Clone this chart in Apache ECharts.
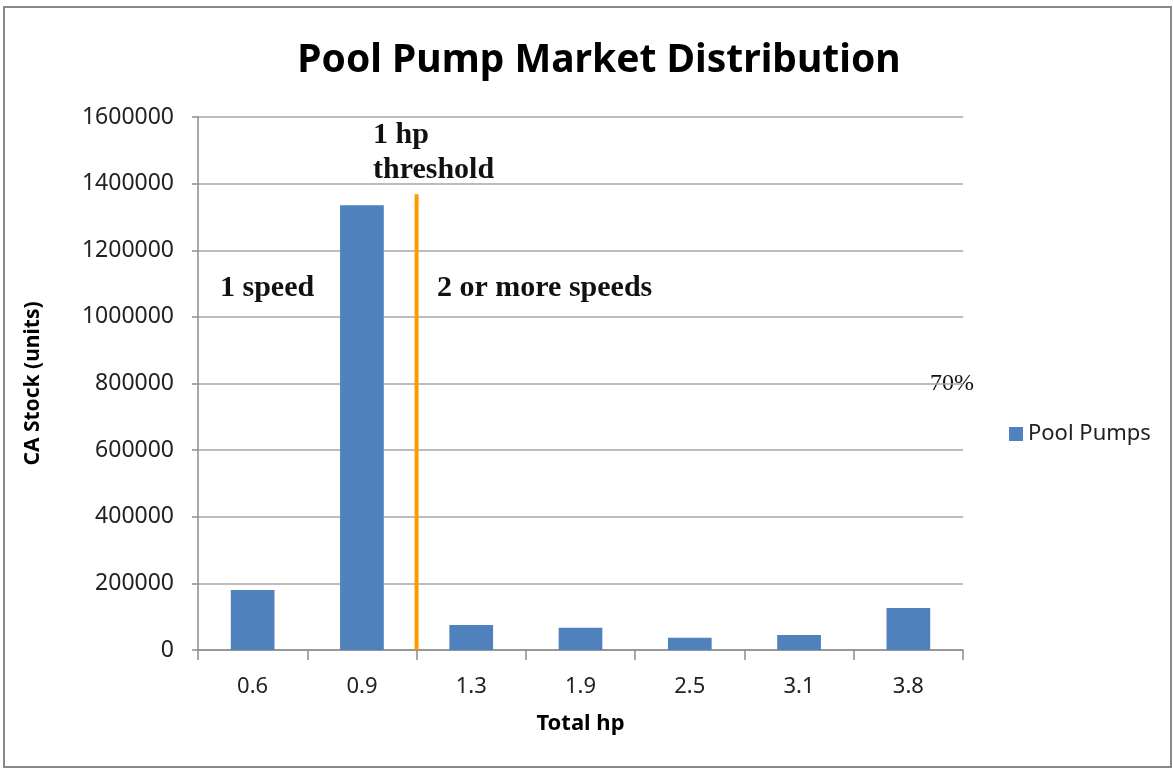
<!DOCTYPE html>
<html>
<head>
<meta charset="utf-8">
<script src="https://cdn.jsdelivr.net/npm/echarts@6/dist/echarts.min.js"></script>
<style>html,body{margin:0;padding:0;background:#fff;}#c{width:1173px;height:772px;}</style>
</head>
<body>
<div id="c"></div>
<script>
const categories = ['0.6', '0.9', '1.3', '1.9', '2.5', '3.1', '3.8'];
const poolPumps = [180000, 1335000, 75000, 67000, 37000, 45000, 126000];
const thresholdLine = [[2, 0], [2, 1368000]];
const yTicks = { min: 0, max: 1600000, interval: 200000 };

const sans = 'Noto Sans';
const chart = echarts.init(document.getElementById('c'));
chart.setOption({
  animation: false,
  backgroundColor: '#fff',
  title: {
    text: 'Pool Pump Market Distribution',
    left: 594, top: 36, textAlign: 'center',
    textStyle: { fontFamily: sans, fontSize: 39, fontWeight: 'bold', color: '#000' }
  },
  legend: {
    data: ['Pool Pumps'],
    left: 1004, top: 418, orient: 'vertical',
    itemWidth: 14, itemHeight: 14, icon: 'rect',
    textStyle: { fontFamily: sans, fontSize: 22, color: '#222' }
  },
  grid: { left: 198, right: 210, top: 117, bottom: 122 },
  xAxis: [{
    type: 'category', data: categories,
    axisLine: { lineStyle: { color: '#8c8c8c', width: 1.5 } },
    axisTick: { show: true, length: 10, lineStyle: { color: '#8c8c8c', width: 1.5 } },
    axisLabel: { fontFamily: sans, fontSize: 22, color: '#222', margin: 26 },
    name: 'Total hp', nameLocation: 'middle', nameGap: 63,
    nameTextStyle: { fontFamily: sans, fontSize: 22, fontWeight: 'bold', color: '#000' }
  }, {
    type: 'value', min: 0, max: 7, show: false
  }],
  yAxis: {
    type: 'value', min: yTicks.min, max: yTicks.max, interval: yTicks.interval,
    axisLine: { show: true, lineStyle: { color: '#8c8c8c', width: 1.5 } },
    axisTick: { show: true, length: 6, lineStyle: { color: '#8c8c8c', width: 1.5 } },
    splitLine: { lineStyle: { color: '#a6a6a6', width: 1.5 } },
    axisLabel: { fontFamily: sans, fontSize: 23, color: '#222', margin: 24, formatter: v => String(v) },
    name: 'CA Stock (units)', nameLocation: 'middle', nameGap: 154,
    nameTextStyle: { fontFamily: sans, fontSize: 21, fontWeight: 'bold', color: '#000' }
  },
  series: [{
    name: 'Pool Pumps', type: 'bar', data: poolPumps, barWidth: '40%',
    itemStyle: { color: '#4f81bd' }
  }, {
    name: 'threshold', type: 'line', xAxisIndex: 1, data: thresholdLine,
    symbol: 'none', lineStyle: { color: '#ff9900', width: 4 }, clip: false, z: 5
  }],
  graphic: [
    { type: 'rect', shape: { x: 4, y: 7, width: 1167, height: 760 }, style: { fill: 'none', stroke: '#888', lineWidth: 2 }, silent: true },
    { type: 'text', left: 220, top: 273, style: { text: '1 speed', font: 'bold 30px "Liberation Serif"', fill: '#111' } },
    { type: 'text', left: 373, top: 120, style: { text: '1 hp', font: 'bold 30px "Liberation Serif"', fill: '#111' } },
    { type: 'text', left: 373, top: 155, style: { text: 'threshold', font: 'bold 30px "Liberation Serif"', fill: '#111' } },
    { type: 'text', left: 437, top: 273, style: { text: '2 or more speeds', font: 'bold 30px "Liberation Serif"', fill: '#111' } },
    { type: 'text', left: 930, top: 372, style: { text: '70%', font: '24px "Liberation Serif"', fill: '#111' } }
  ]
});
</script>
</body>
</html>
